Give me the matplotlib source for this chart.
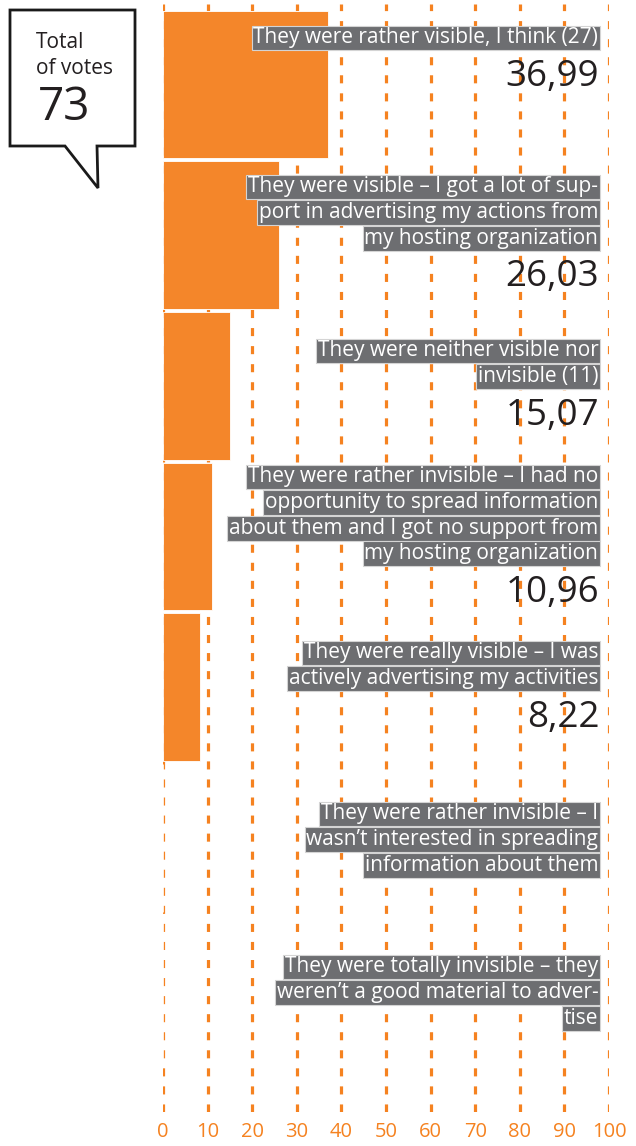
import matplotlib
matplotlib.use("Agg")
import matplotlib.pyplot as plt
from matplotlib.patches import Polygon

# --- data -------------------------------------------------------------
answers = [
    ["They were rather visible, I think (27)"],
    ["They were visible \u2013 I got a lot of sup-",
     "port in advertising my actions from",
     "my hosting organization"],
    ["They were neither visible nor",
     "invisible (11)"],
    ["They were rather invisible \u2013 I had no",
     "opportunity to spread information",
     "about them and I got no support from",
     "my hosting organization"],
    ["They were really visible \u2013 I was",
     "actively advertising my activities"],
    ["They were rather invisible \u2013 I",
     "wasn\u2019t interested in spreading",
     "information about them"],
    ["They were totally invisible \u2013 they",
     "weren\u2019t a good material to adver-",
     "tise"],
]
percent = [36.99, 26.03, 15.07, 10.96, 8.22, 0.0, 0.0]
value_labels = ["36,99", "26,03", "15,07", "10,96", "8,22", "", ""]
x_ticks = [0, 10, 20, 30, 40, 50, 60, 70, 80, 90, 100]
total_votes = 73

# --- style ------------------------------------------------------------
ORANGE = "#f4862a"
GRID = "#f58220"
BOX = "#6d6e71"
DARK = "#231f20"
FONT = "Open Sans"

W, H, DPI = 636, 1146, 100
fig = plt.figure(figsize=(W / DPI, H / DPI), dpi=DPI)

# axes geometry in pixels
x0_px, x1_px = 163, 609
top_px, bot_px = 4, 1112
slot_top_px, slot_px = 9, 150.7
ax = fig.add_axes([x0_px / W, 1 - bot_px / H, (x1_px - x0_px) / W, (bot_px - top_px) / H])
n = len(answers)
y_top = -0.5 - (slot_top_px - top_px) / slot_px
y_bot = -0.5 + (bot_px - slot_top_px) / slot_px
ax.set_ylim(y_bot, y_top)
ax.set_xlim(0, 100)

grid_lw = 2.3
for x in x_ticks:
    ax.axvline(x, color=GRID, lw=grid_lw, ls=(0, (5.8 / grid_lw, 7.2 / grid_lw)), zorder=1)

ypos = list(range(n))
ax.barh(ypos, percent, height=0.98, color=ORANGE, edgecolor="white",
        linewidth=0.6, zorder=2)

# text blocks: first-line offset from slot centre (slot units)
first_line = [-0.308, -0.319, -0.231, -0.395, -0.227, -0.159, -0.143]
line_step = 0.170
value_gap = 0.259
for i, lines in enumerate(answers):
    y = ypos[i] + first_line[i]
    for j, line in enumerate(lines):
        ax.text(97.6, y + j * line_step, line, ha="right", va="center",
                family=FONT, fontsize=15.0, color="white", zorder=4,
                bbox=dict(boxstyle="square,pad=0.09", fc=BOX, ec="#d4d4d4", lw=0.8))
    if value_labels[i]:
        ax.text(97.8, y + (len(lines) - 1) * line_step + value_gap, value_labels[i],
                ha="right", va="center", family=FONT, fontsize=26.5, color=DARK, zorder=4)

ax.set_xticks(x_ticks)
ax.set_xticklabels([str(t) for t in x_ticks], family=FONT, fontsize=14.5, color=GRID)
ax.tick_params(axis="x", length=0, pad=7)
ax.set_yticks([])
for s in ax.spines.values():
    s.set_visible(False)

# speech bubble with the total
bubble = [(10, 10), (135, 10), (135, 146), (97, 146), (98, 188), (65, 146), (10, 146)]
fig.patches.append(Polygon([(px / W, 1 - py / H) for px, py in bubble], closed=True,
                           transform=fig.transFigure, fc="white", ec="#1a1a1a", lw=2.0))
fig.text(36 / W, 1 - 43 / H, "Total", family=FONT, fontsize=15, color=DARK, va="center")
fig.text(36 / W, 1 - 69 / H, "of votes", family=FONT, fontsize=15, color=DARK, va="center")
fig.text(38 / W, 1 - 108 / H, str(total_votes), family=FONT, fontsize=33, color=DARK, va="center")

fig.savefig("out.png", dpi=DPI)
